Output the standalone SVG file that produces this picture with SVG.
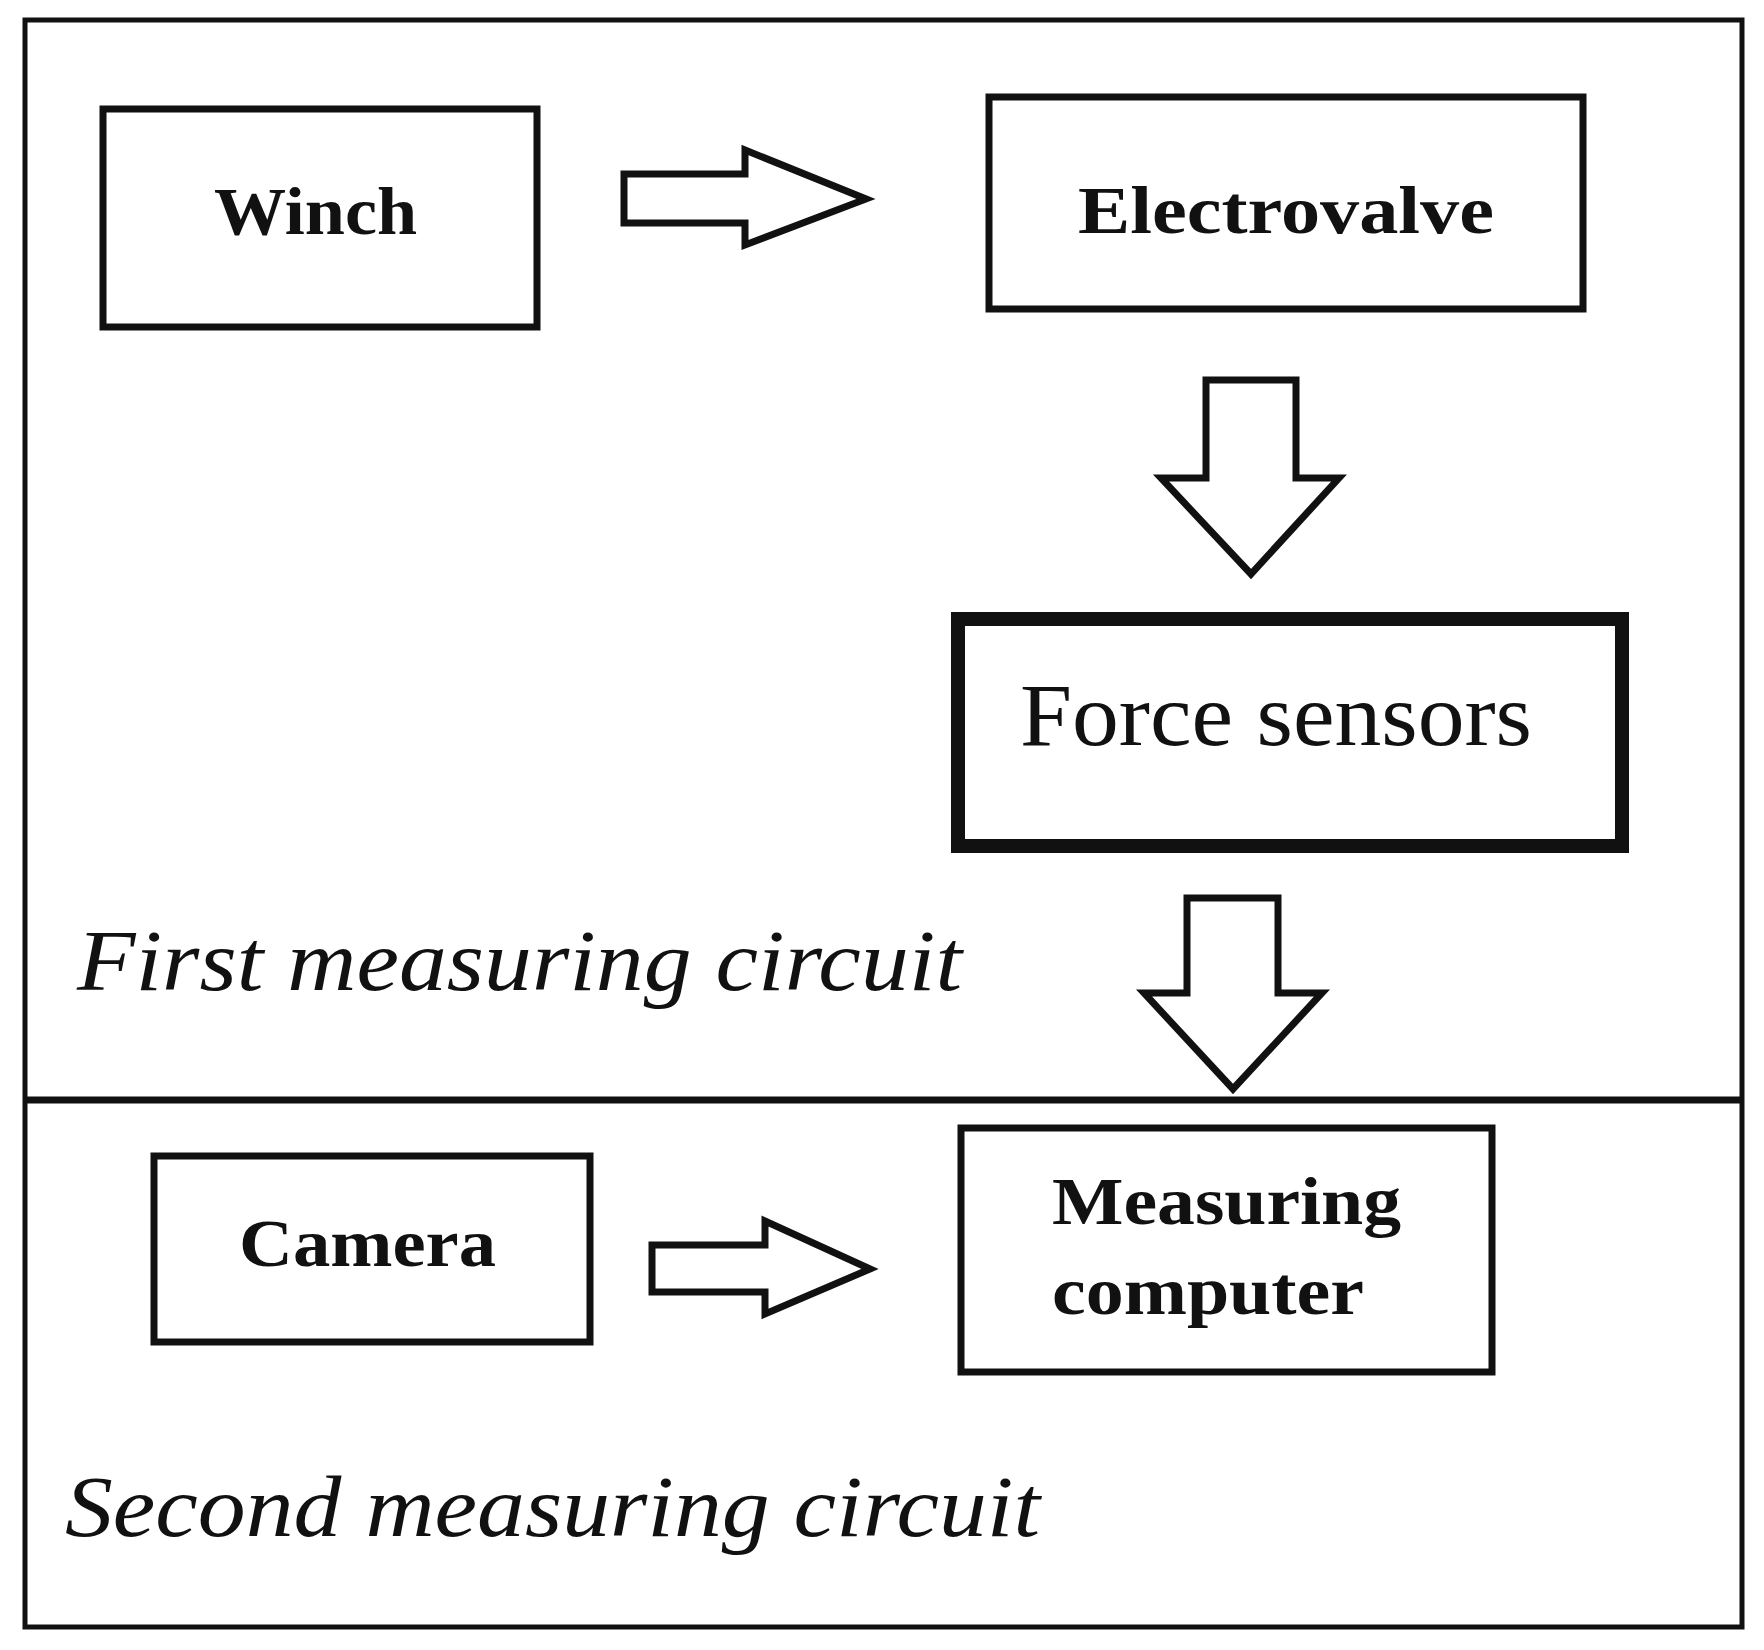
<svg xmlns="http://www.w3.org/2000/svg" width="1764" height="1650" viewBox="0 0 1764 1650">
<style>
.b{fill:#fff;stroke:#111;stroke-width:7}
.a{fill:#fff;stroke:#111;stroke-width:7;stroke-linejoin:miter}
.t{font-family:"Liberation Serif",serif;fill:#111}
.bold{font-weight:bold;font-size:68px}
.it{font-style:italic;font-size:86px}
</style>
<rect width="1764" height="1650" fill="#fff"/>
<rect x="25" y="20" width="1717" height="1607" fill="none" stroke="#111" stroke-width="5"/>
<line x1="25" y1="1100" x2="1742" y2="1100" stroke="#111" stroke-width="7"/>
<g id="winch"><rect class="b" x="103" y="109" width="434" height="218"/><text class="t bold" x="214" y="234" textLength="203" lengthAdjust="spacingAndGlyphs">Winch</text></g>
<g id="electrovalve"><rect class="b" x="989" y="97" width="594" height="212"/><text class="t bold" x="1078" y="233" textLength="416" lengthAdjust="spacingAndGlyphs">Electrovalve</text></g>
<g id="force"><rect x="958" y="619" width="664" height="227" fill="#fff" stroke="#111" stroke-width="14"/><text class="t" x="1020" y="745" font-size="88" textLength="512" lengthAdjust="spacingAndGlyphs">Force sensors</text></g>
<g id="camera"><rect class="b" x="154" y="1156" width="436" height="186"/><text class="t bold" x="239" y="1266" textLength="257" lengthAdjust="spacingAndGlyphs">Camera</text></g>
<g id="computer"><rect class="b" x="961" y="1128" width="531" height="244"/><text class="t bold" x="1052" y="1224" textLength="349" lengthAdjust="spacingAndGlyphs">Measuring</text><text class="t bold" x="1052" y="1314" textLength="312" lengthAdjust="spacingAndGlyphs">computer</text></g>
<g id="connectors">
<polygon class="a" points="624,174 745,174 745,150 866,199 745,245 745,223 624,223"/>
<polygon class="a" points="652,1245 765,1245 765,1221 870,1269 765,1314 765,1292 652,1292"/>
<polygon class="a" points="1206,380 1296,380 1296,478 1339,478 1251,574 1161,478 1206,478"/>
<polygon class="a" points="1187,898 1278,898 1278,993 1322,993 1233,1089 1144,993 1187,993"/>
</g>
<text class="t it" x="77" y="990" textLength="885" lengthAdjust="spacingAndGlyphs">First measuring circuit</text>
<text class="t it" x="65" y="1536" font-size="90" textLength="975" lengthAdjust="spacingAndGlyphs">Second measuring circuit</text>
</svg>
